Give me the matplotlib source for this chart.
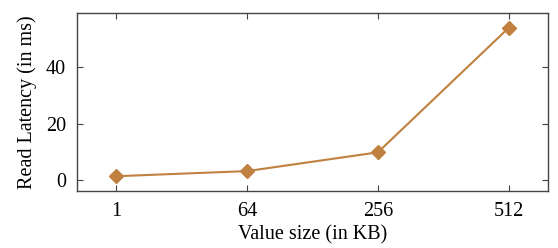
import matplotlib
matplotlib.use("Agg")
import matplotlib.pyplot as plt

# data
sizes = ["1", "64", "256", "512"]          # value size (KB), evenly spaced categories
latency = [1.5, 3.3, 9.9, 53.7]            # read latency (ms)

plt.rcParams.update({"font.family": "Liberation Serif", "font.size": 14.5})

fig = plt.figure(figsize=(5.58, 2.48), dpi=100)
ax = fig.add_axes([77 / 558, 1 - 191 / 248, (548 - 77) / 558, (191 - 13) / 248])

x = list(range(len(sizes)))
ax.plot(x, latency, color="#c0803f", lw=1.5, marker="D", ms=7, mec="#c0803f")

ax.set_xticks(x)
ax.set_xticklabels(sizes)
ax.set_yticks([0, 20, 40])
ax.set_xlim(-0.3, 3.3)
ax.set_ylim(-3.7, 58.9)
ax.tick_params(direction="in", length=4, width=0.8, top=True, right=True,
               color="#444444", pad=8)
for s in ax.spines.values():
    s.set_linewidth(1.0)
    s.set_color("#444444")

ax.set_xlabel("Value size (in KB)", labelpad=3)
ax.set_ylabel("Read Latency (in ms)", labelpad=6)

fig.savefig("out.png", dpi=100)
